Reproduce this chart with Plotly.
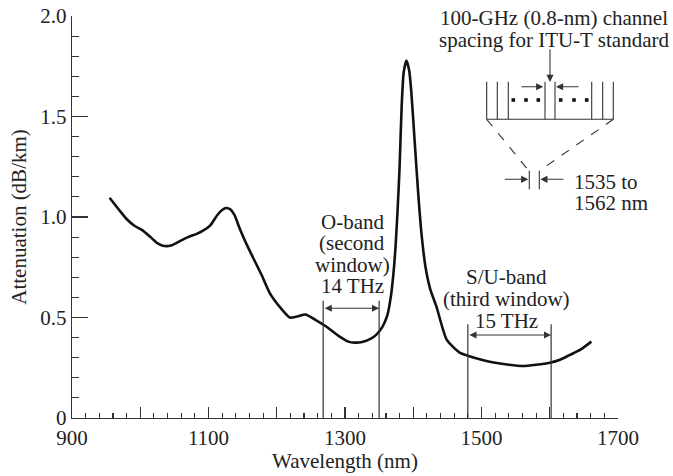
import plotly.graph_objects as go

# ---------------- data ----------------
wavelength_nm = [955, 968, 980, 992, 1003, 1015, 1025, 1033, 1045, 1058, 1070, 1082, 1092,
                 1103, 1113, 1120, 1126, 1132, 1138, 1146, 1155, 1165, 1178, 1190, 1205,
                 1219, 1230, 1242, 1256, 1273, 1290, 1305, 1314, 1325, 1338, 1346, 1355,
                 1362, 1367, 1371, 1374, 1377, 1380, 1383, 1386, 1390, 1394, 1397, 1402,
                 1407, 1412, 1418, 1425, 1434, 1449, 1468, 1480, 1500, 1520, 1540, 1561,
                 1580, 1600, 1615, 1629, 1645, 1661]
attenuation_db_km = [1.096, 1.04, 0.99, 0.955, 0.935, 0.90, 0.87, 0.857, 0.858, 0.88, 0.90, 0.915, 0.932,
                     0.96, 1.01, 1.035, 1.045, 1.038, 1.01, 0.94, 0.87, 0.80, 0.71, 0.62, 0.55,
                     0.50, 0.505, 0.515, 0.49, 0.454, 0.41, 0.38, 0.375, 0.378, 0.395, 0.415, 0.455,
                     0.51, 0.60, 0.72, 0.85, 1.03, 1.25, 1.55, 1.72, 1.778, 1.73, 1.63, 1.38,
                     1.13, 0.92, 0.75, 0.64, 0.554, 0.39, 0.325, 0.31, 0.29, 0.275, 0.265, 0.259,
                     0.265, 0.275, 0.29, 0.313, 0.34, 0.38]

o_band_edges_nm = [1268, 1350]
o_band_line_top = 0.583
o_band_arrow_y = 0.546
o_band_label = ["O-band", "(second", "window)", "14 THz"]

su_band_edges_nm = [1480, 1602]
su_band_line_top = 0.466
su_band_arrow_y = 0.413
su_band_label = ["S/U-band", "(third window)", "15 THz"]

inset_title = ["100-GHz (0.8-nm) channel", "spacing for ITU-T standard"]
inset_range_label = ["1535 to", "1562 nm"]

x_tick_vals = [900, 1000, 1100, 1200, 1300, 1400, 1500, 1600, 1700]
x_tick_text = ["900", "", "1100", "", "1300", "", "1500", "", "1700"]
y_tick_vals = [0, 0.5, 1.0, 1.5, 2.0]
y_tick_text = ["0", "0.5", "1.0", "1.5", "2.0"]

# ---------------- layout geometry ----------------
W, H = 673, 476
ML, MR, MT, MB = 72, 55, 16, 58
PW, PH = W - ML - MR, H - MT - MB
XR = [900, 1700]
YR = [0, 2.0]

def dx(px):
    return XR[0] + (px - ML) * (XR[1] - XR[0]) / PW

def dy(py):
    return YR[0] + (MT + PH - py) * (YR[1] - YR[0]) / PH

FONT = "Liberation Serif, Times New Roman, serif"
TXT = "#222222"
LINE = "#333333"
FS = 21

fig = go.Figure()
fig.add_trace(go.Scatter(
    x=wavelength_nm, y=attenuation_db_km, mode="lines",
    line=dict(color="#111111", width=2.6, shape="spline", smoothing=0.6),
    showlegend=False, hoverinfo="skip"))

shapes = []
annotations = []

# band edge vertical lines and arrows
for edges, top, ay in [(o_band_edges_nm, o_band_line_top, o_band_arrow_y),
                       (su_band_edges_nm, su_band_line_top, su_band_arrow_y)]:
    for e in edges:
        shapes.append(dict(type="line", xref="x", yref="y", x0=e, x1=e, y0=0, y1=top,
                           line=dict(color=LINE, width=1.2)))
    annotations.append(dict(xref="x", yref="y", axref="x", ayref="y",
                            x=edges[1], y=ay, ax=edges[0], ay=ay, text="",
                            showarrow=True, arrowside="end+start", arrowhead=2,
                            arrowsize=1.3, arrowwidth=1.1, arrowcolor=LINE))

# band labels (one annotation per line for tight leading)
for i, t in enumerate(o_band_label):
    annotations.append(dict(xref="x", yref="y", x=dx(352), y=dy(222 + i * 21.3), text=t,
                            showarrow=False, xanchor="center", yanchor="middle",
                            font=dict(family=FONT, size=FS, color=TXT)))
for i, t in enumerate(su_band_label):
    annotations.append(dict(xref="x", yref="y", x=dx(506), y=dy(277 + i * 22), text=t,
                            showarrow=False, xanchor="center", yanchor="middle",
                            font=dict(family=FONT, size=FS, color=TXT)))

# ---------------- inset schematic ----------------
for i, t in enumerate(inset_title):
    annotations.append(dict(xref="x", yref="y", x=dx(554), y=dy(18 + i * 22), text=t,
                            showarrow=False, xanchor="center", yanchor="middle",
                            font=dict(family=FONT, size=FS, color=TXT)))
for i, t in enumerate(inset_range_label):
    annotations.append(dict(xref="x", yref="y", x=dx(572), y=dy(181.5 + i * 21.5), text=t,
                            showarrow=False, xanchor="left", yanchor="middle",
                            font=dict(family=FONT, size=FS, color=TXT)))

for px in [486.7, 497.3, 508.3, 545, 555, 591.7, 602.7, 613.3]:
    shapes.append(dict(type="line", xref="x", yref="y", x0=dx(px), x1=dx(px),
                       y0=dy(81.7), y1=dy(119.3), line=dict(color=LINE, width=1.1)))
shapes.append(dict(type="line", xref="x", yref="y", x0=dx(486.7), x1=dx(613.3),
                   y0=dy(119.3), y1=dy(119.3), line=dict(color=LINE, width=1.1)))
for px in [513.3, 526, 538.3, 560.7, 574, 586.7]:
    shapes.append(dict(type="rect", xref="x", yref="y", x0=dx(px - 1.8), x1=dx(px + 1.8),
                       y0=dy(101.8), y1=dy(98.2), line=dict(width=0), fillcolor="#111111"))
shapes.append(dict(type="line", xref="x", yref="y", x0=dx(486.7), x1=dx(527),
                   y0=dy(119.3), y1=dy(168.5), line=dict(color=LINE, width=1.1, dash="dash")))
shapes.append(dict(type="line", xref="x", yref="y", x0=dx(613.3), x1=dx(540.5),
                   y0=dy(119.3), y1=dy(170), line=dict(color=LINE, width=1.1, dash="dash")))
for px in [529.3, 539.3]:
    shapes.append(dict(type="line", xref="x", yref="y", x0=dx(px), x1=dx(px),
                       y0=dy(170.7), y1=dy(189.3), line=dict(color=LINE, width=1.1)))

for (x0, y0, x1, y1) in [(550, 48, 550, 82), (520, 86.7, 543.3, 86.7), (580, 86.7, 556, 86.7),
                         (503.3, 179.3, 528.3, 179.3), (565, 179.3, 540.3, 179.3)]:
    annotations.append(dict(xref="x", yref="y", axref="x", ayref="y",
                            x=dx(x1), y=dy(y1), ax=dx(x0), ay=dy(y0), text="",
                            showarrow=True, arrowhead=2, arrowsize=1.3,
                            arrowwidth=1.1, arrowcolor=LINE))

fig.update_layout(
    width=W, height=H,
    margin=dict(l=ML, r=MR, t=MT, b=MB, autoexpand=False),
    paper_bgcolor="white", plot_bgcolor="white",
    font=dict(family=FONT, size=FS, color=TXT),
    shapes=shapes, annotations=annotations,
    xaxis=dict(range=XR, showgrid=False, zeroline=False, showline=True, automargin=False,
               linecolor=LINE, linewidth=1.3, ticks="inside", ticklen=11, tickwidth=1.1,
               tickcolor=LINE, tickvals=x_tick_vals, ticktext=x_tick_text,
               tickfont=dict(family=FONT, size=FS, color=TXT), ticklabelstandoff=0,
               minor=dict(ticks="inside", dtick=20, tick0=900, ticklen=5,
                          tickwidth=1.1, tickcolor=LINE, showgrid=False),
               title=dict(text="Wavelength (nm)", font=dict(family=FONT, size=FS, color=TXT),
                          standoff=0)),
    yaxis=dict(range=YR, showgrid=False, zeroline=False, showline=True, automargin=False,
               linecolor=LINE, linewidth=1.3, ticks="inside", ticklen=16, tickwidth=1.1,
               tickcolor=LINE, tickvals=y_tick_vals, ticktext=y_tick_text,
               tickfont=dict(family=FONT, size=FS, color=TXT),
               minor=dict(ticks="inside", dtick=0.1, tick0=0, ticklen=7,
                          tickwidth=1.1, tickcolor=LINE, showgrid=False),
               title=dict(text="Attenuation (dB/km)", font=dict(family=FONT, size=FS, color=TXT),
                          standoff=8)),
)

fig.write_html("out.html", config={"displayModeBar": False, "staticPlot": True},
               post_script="document.body.style.margin='0';document.body.style.overflow='hidden';")
